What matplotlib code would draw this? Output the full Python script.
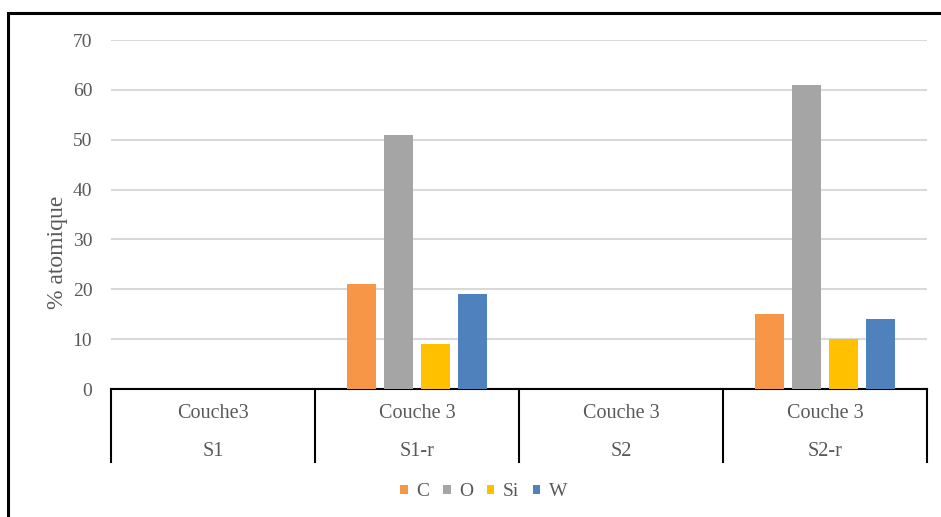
import numpy as np
import matplotlib
matplotlib.use("Agg")
import matplotlib.pyplot as plt
from matplotlib.lines import Line2D
from matplotlib.patches import Rectangle

plt.rcParams['font.family'] = ['Liberation Serif', 'DejaVu Serif']

# data
couches = ["Couche3", "Couche 3", "Couche 3", "Couche 3"]
samples = ["S1", "S1-r", "S2", "S2-r"]
elements = ["C", "O", "Si", "W"]
val_C = [np.nan, 21, np.nan, 15]
val_O = [np.nan, 51, np.nan, 61]
val_Si = [np.nan, 9, np.nan, 10]
val_W = [np.nan, 19, np.nan, 14]
colors = ["#F79646", "#A5A5A5", "#FFC000", "#4F81BD"]

W, H = 941, 517
fig = plt.figure(figsize=(W / 100, H / 100), dpi=100)
ax = fig.add_axes([111 / W, (H - 389) / H, (927 - 111) / W, (389 - 40) / H])

x = np.arange(len(samples))
step = 0.182
width = 0.143
series = [val_C, val_O, val_Si, val_W]
for i, (name, vals, col) in enumerate(zip(elements, series, colors)):
    ax.bar(x + (i - 1.5) * step, vals, width, color=col, label=name, zorder=3)

ax.set_xlim(-0.5, len(samples) - 0.5)
ax.set_ylim(0, 70)
ax.set_yticks(range(0, 71, 10))
ax.yaxis.grid(True, color="#d9d9d9", linewidth=1.5, zorder=0)
ax.set_axisbelow(True)
for s in ["top", "right", "left"]:
    ax.spines[s].set_visible(False)
ax.spines["bottom"].set_color("black")
ax.spines["bottom"].set_linewidth(1.5)
ax.tick_params(axis="y", length=0, pad=13.5, labelsize=14, labelcolor="#595959")
ax.tick_params(axis="x", length=0, labelbottom=False)
ax.set_ylabel("% atomique", fontsize=17, color="#595959")
# Excel centres the title on the plot area incl. the category rows
ax.yaxis.set_label_coords((68 - 111) / 816, (389 - 252) / 349)

# multi-level category axis
trans = ax.get_xaxis_transform()
depth = (462 - 389) / (389 - 40)
for b in np.arange(-0.5, len(samples), 1.0):
    ax.add_line(Line2D([b, b], [0, -depth], transform=trans, color="black",
                       linewidth=1.5, clip_on=False))
for xi, c, s in zip(x, couches, samples):
    ax.text(xi, -(413 - 389) / (389 - 40), c, transform=trans, ha="center",
            va="center", fontsize=14.5, color="#595959")
    ax.text(xi, -(451 - 389) / (389 - 40), s, transform=trans, ha="center",
            va="center", fontsize=14.5, color="#595959")

fig.legend(loc="center", bbox_to_anchor=(484 / W, (H - 492) / H), ncol=4,
           frameon=False, fontsize=14, handlelength=0.38, handleheight=0.38,
           handletextpad=0.45, columnspacing=0.7, labelcolor="#595959")

# outer chart border
fig.patches.append(Rectangle((8 / W, -0.1), 1.2, (H - 13) / H + 0.1,
                             transform=fig.transFigure, fill=False,
                             edgecolor="black", linewidth=2.2))

fig.savefig("out.png", dpi=100)
